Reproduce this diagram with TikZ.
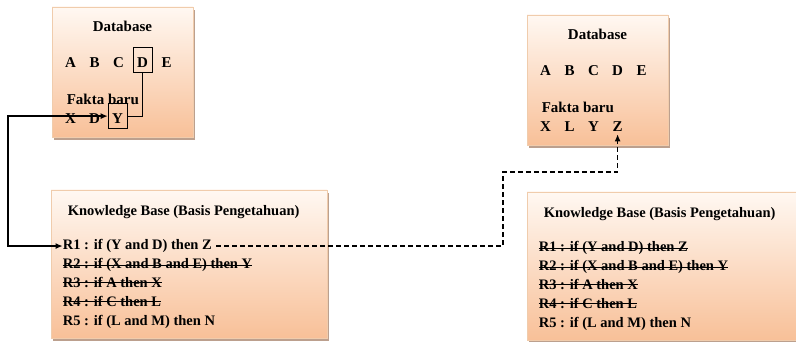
\documentclass[tikz,border=0pt]{standalone}
\usepackage{fontspec}
\setmainfont{Liberation Serif}
\usetikzlibrary{arrows.meta, positioning, calc, shadows}
\definecolor{memotop}{RGB}{255,248,242}
\definecolor{memobot}{RGB}{248,192,152}
\definecolor{memoline}{RGB}{240,204,172}
\definecolor{memoshade}{RGB}{188,160,142}
\newcommand{\txt}{\fontsize{15}{18}\selectfont}
\newcommand{\kbtxt}{\fontsize{14.5}{17}\selectfont\bfseries}
\tikzset{
  memo/.style={
    rectangle, draw=memoline, line width=0.8pt, inner sep=0pt,
    top color=memotop, bottom color=memobot,
    drop shadow={shadow xshift=2pt, shadow yshift=-3pt,
                 fill=memoshade, opacity=1}},
  dbbox/.style={memo, minimum width=141pt, minimum height=130pt},
  kbbox/.style={memo, minimum width=276pt, minimum height=148pt},
  lbl/.style={font=\txt\bfseries, inner sep=2.5pt, anchor=base},
  lblw/.style={font=\txt\bfseries, inner sep=0pt, anchor=base west},
  rule/.style={font=\kbtxt, inner sep=0pt, anchor=base west},
  struck/.style={rule, append after command={
      (\tikzlastnode.west) edge[line width=1pt] (\tikzlastnode.east)}},
  tag/.style={draw, line width=1pt, text height=15pt, text depth=0pt,
              inner xsep=4pt, inner ysep=5pt},
  link/.style={line width=1pt},
  arr/.style={{Latex[length=7pt,width=6pt]}-{Latex[length=7pt,width=6pt]},
              line width=1.2pt},
  arrdash/.style={-{Latex[length=7pt,width=6pt]}, line width=1.2pt,
                  dash pattern=on 5pt off 3pt},
}
\begin{document}
\begin{tikzpicture}[x=1pt, y=-1pt]
  \useasboundingbox (0,0) rectangle (796,342);
  % boxes
  \node[dbbox] (dbL) at (122.5,72) {};
  \node[dbbox] (dbR) at (597.5,80) {};
  \node[kbbox] (kbL) at (189,264) {};
  \node[kbbox] (kbR) at (665,266) {};
  % database, before
  \node[lbl] (titL) at ($(dbL.north)+(0,25)$) {Database};
  \node[lbl] (aL) at ($(dbL.north west)+(19,61)$) {A};
  \node[lbl] (bL) at ($(aL.base)+(24,0)$) {B};
  \node[lbl] (cL) at ($(bL.base)+(24,0)$) {C};
  \node[lbl, tag] (dL) at ($(cL.base)+(24,0)$) {D};
  \node[lbl] (eL) at ($(dL.base)+(24,0)$) {E};
  \node[lblw] (newL) at ($(dbL.north west)+(15,98)$) {Fakta baru};
  \node[lbl] (xL) at ($(dbL.north west)+(19,117)$) {X};
  \node[lbl] (d2L) at ($(xL.base)+(24,0)$) {D};
  \node[lbl, tag] (yL) at ($(d2L.base)+(23,0)$) {Y};
  % database, after
  \node[lbl] (titR) at ($(dbR.north)+(0,25)$) {Database};
  \node[lbl] (aR) at ($(dbR.north west)+(19,61)$) {A};
  \node[lbl] (bR) at ($(aR.base)+(24,0)$) {B};
  \node[lbl] (cR) at ($(bR.base)+(24,0)$) {C};
  \node[lbl] (dR) at ($(cR.base)+(24,0)$) {D};
  \node[lbl] (eR) at ($(dR.base)+(24,0)$) {E};
  \node[lblw] (newR) at ($(dbR.north west)+(15,98)$) {Fakta baru};
  \node[lbl] (xR) at ($(dbR.north west)+(19,117)$) {X};
  \node[lbl] (lR) at ($(xR.base)+(24,0)$) {L};
  \node[lbl] (yR) at ($(lR.base)+(24,0)$) {Y};
  \node[lbl] (zR) at ($(yR.base)+(24,0)$) {Z};
  % knowledge base, before
  \node[rule] (kbtL) at ($(kbL.north west)+(17,26)$) {Knowledge Base (Basis Pengetahuan)};
  \node[rule] (r1L) at ($(kbL.north west)+(12,60)$) {R1 : if (Y and D) then Z};
  \node[struck] (r2L) at ($(r1L.base west)+(0,19)$) {R2 : if (X and B and E) then Y};
  \node[struck] (r3L) at ($(r2L.base west)+(0,19)$) {R3 : if A then X};
  \node[struck] (r4L) at ($(r3L.base west)+(0,19)$) {R4 : if C then L};
  \node[rule] (r5L) at ($(r4L.base west)+(0,19)$) {R5 : if (L and M) then N};
  % knowledge base, after
  \node[rule] (kbtR) at ($(kbR.north west)+(17,26)$) {Knowledge Base (Basis Pengetahuan)};
  \node[struck] (r1R) at ($(kbR.north west)+(12,60)$) {R1 : if (Y and D) then Z};
  \node[struck] (r2R) at ($(r1R.base west)+(0,19)$) {R2 : if (X and B and E) then Y};
  \node[struck] (r3R) at ($(r2R.base west)+(0,19)$) {R3 : if A then X};
  \node[struck] (r4R) at ($(r3R.base west)+(0,19)$) {R4 : if C then L};
  \node[rule] (r5R) at ($(r4R.base west)+(0,19)$) {R5 : if (L and M) then N};
  % connectors
  \coordinate (rail) at (8,0);
  \coordinate (jog) at (503,172);
  \draw[link] (dL.south) |- (yL.east);
  \draw[arr] (yL.west) -- (yL.west -| rail) |- (r1L.west);
  \draw[arrdash, shorten <=4pt] (r1L.east) -| (jog) -| (zR.south);
\end{tikzpicture}
\end{document}
